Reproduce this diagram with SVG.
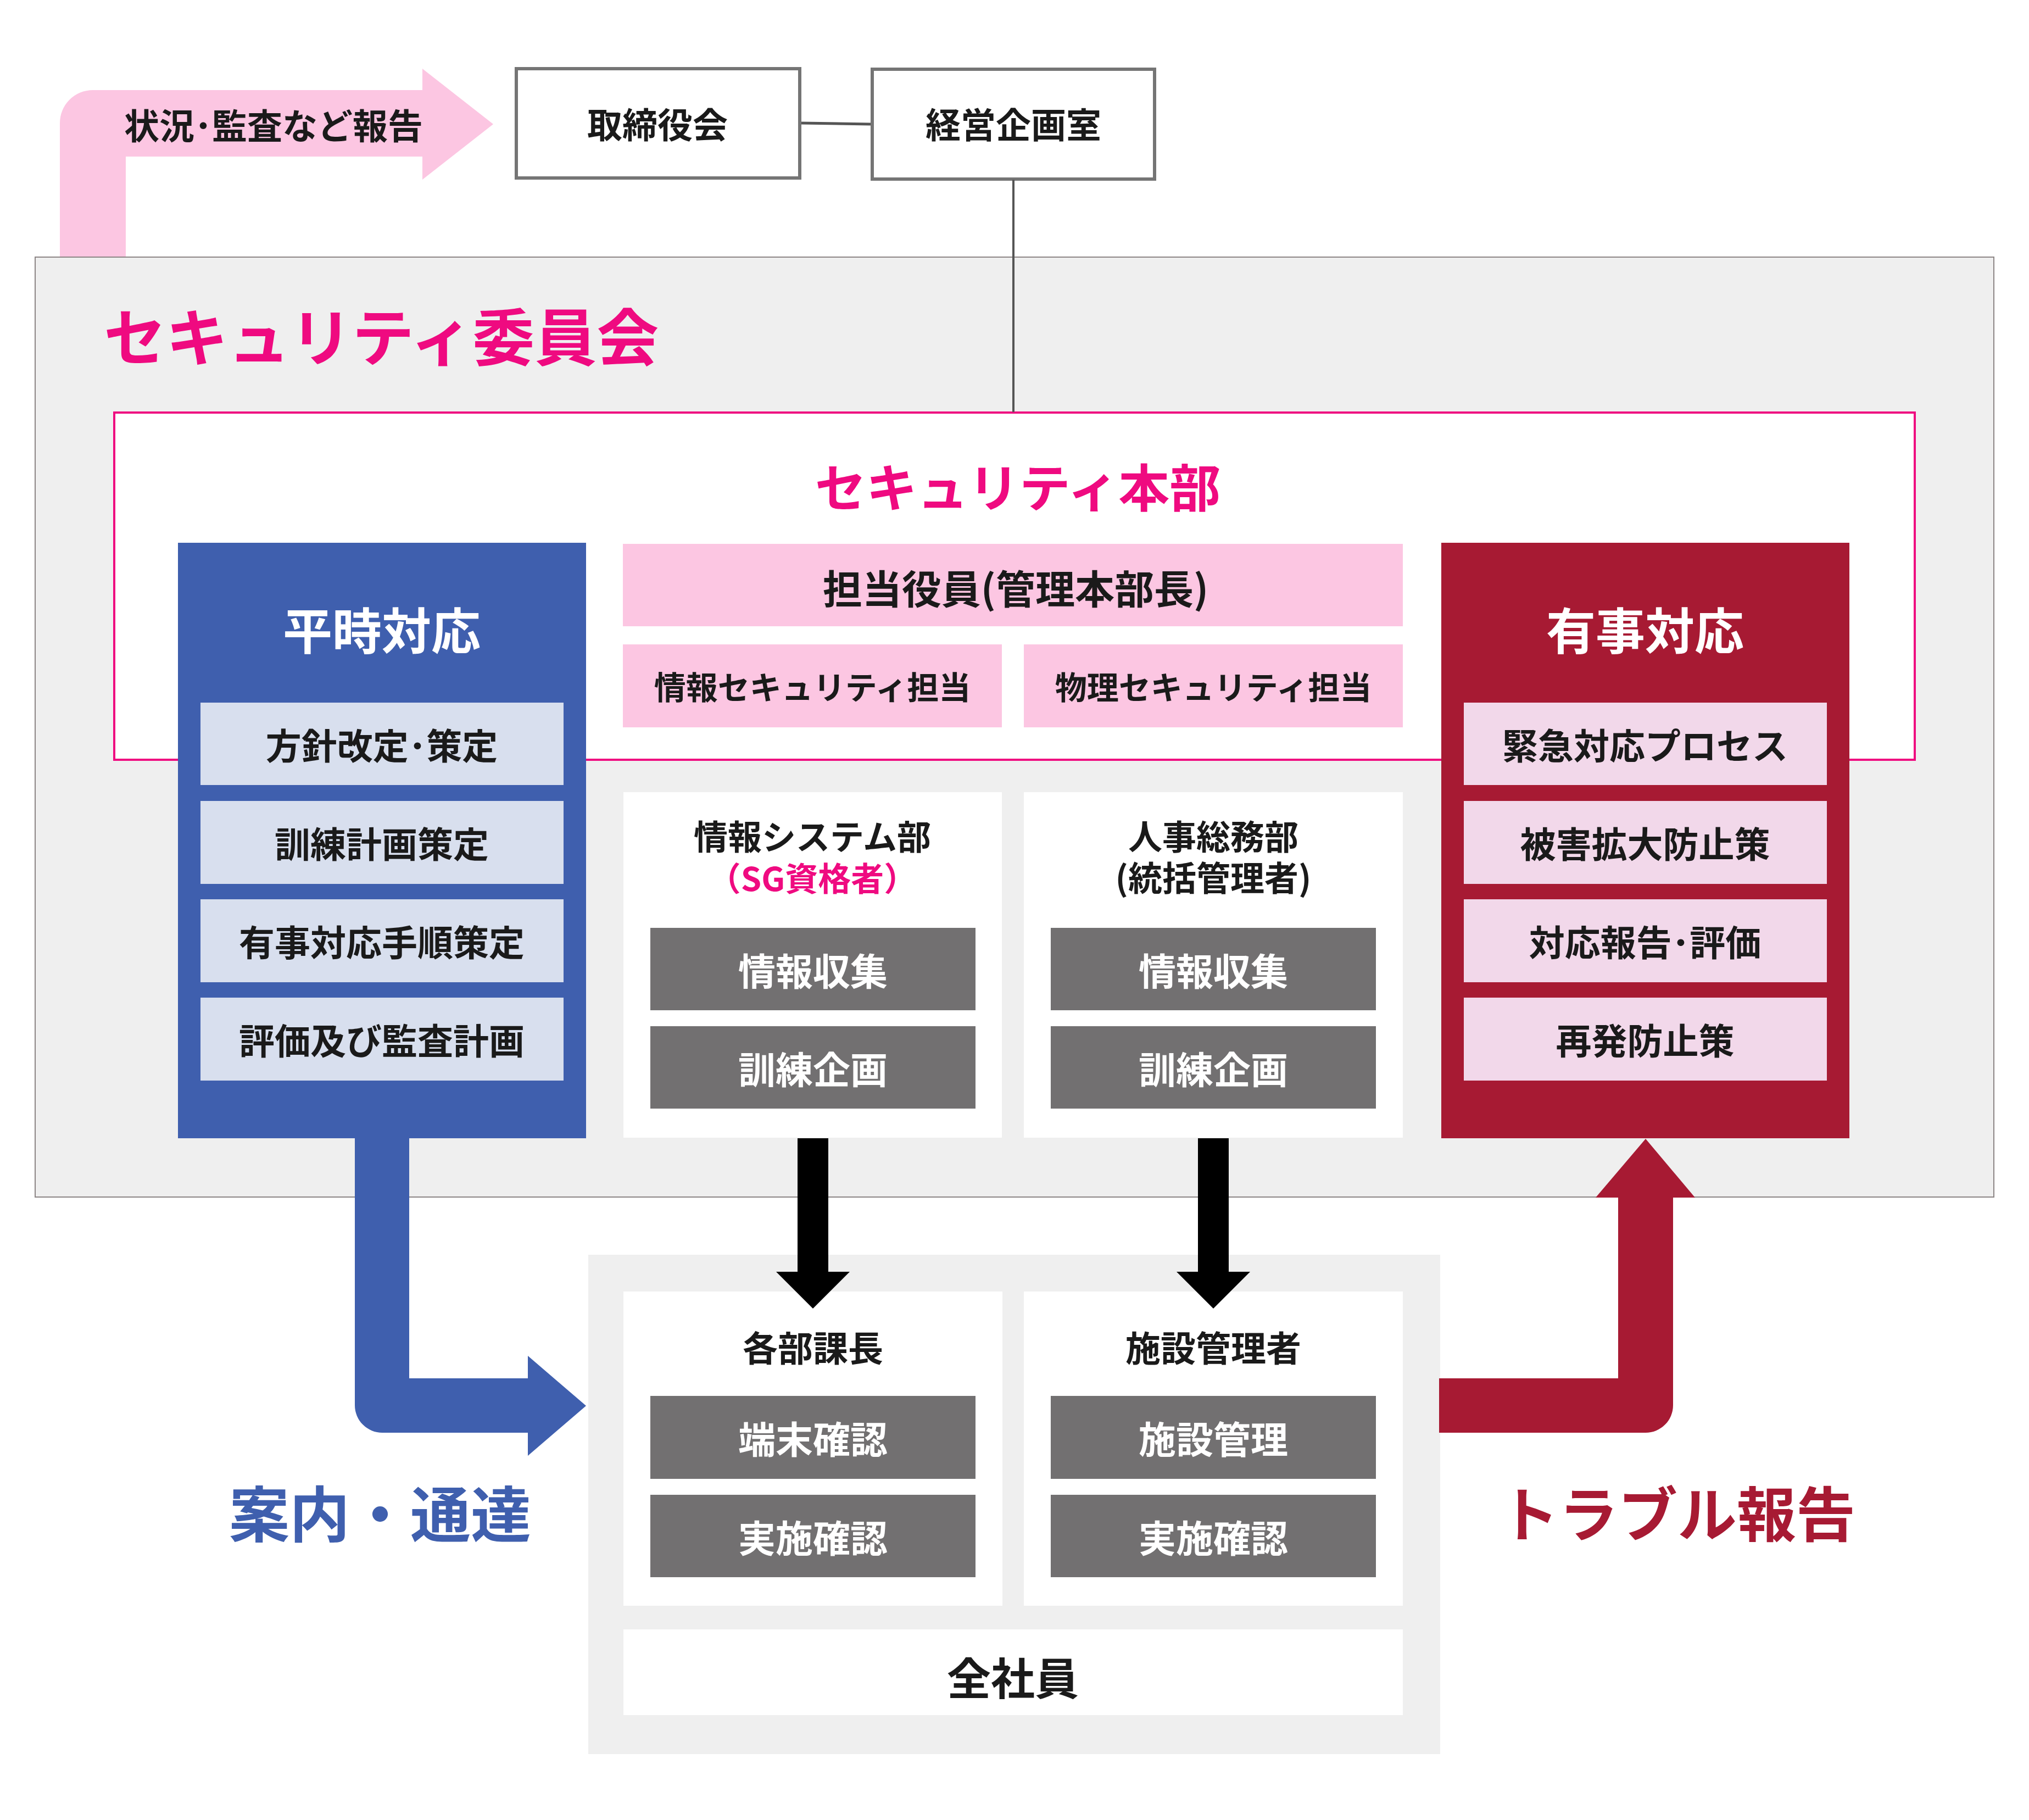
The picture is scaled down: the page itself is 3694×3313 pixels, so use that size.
<svg xmlns="http://www.w3.org/2000/svg" width="3694" height="3313" viewBox="0 0 3694 3313">
<style>
text{font-family:"Noto Sans CJK JP","Noto Sans CJK SC",sans-serif;font-weight:700;dominant-baseline:central;text-anchor:middle;fill:#1a1a1a}
.w{fill:#ffffff}
.m{fill:#ef0a80}
.lb{fill:#d8dfee}
.lp{fill:#f2d8ea}
.pk{fill:#fcc6e2}
.gb{fill:#727071}
.wb{fill:#ffffff}
.f62{font-size:62px}
.f65{font-size:65px}
.f68{font-size:68px}
.f64{font-size:64px}
</style>
<rect width="3694" height="3313" fill="#ffffff"/>

<!-- pink report arrow -->
<path id="report-arrow" d="M109,470 L109,224 A60,60 0 0 1 169,164 L769,164 L769,125 L898,226 L769,327 L769,285 L229,285 L229,470 Z" fill="#fcc6e2"/>

<!-- security committee -->
<g id="committee">
<rect x="64" y="468" width="3566" height="1711" fill="#efefef" stroke="#8c8585" stroke-width="2"/>
<text x="189" y="607" font-size="113" class="m" style="text-anchor:start">セキュリティ委員会</text>
</g>

<g id="hq">
<rect x="208" y="751" width="3278" height="632" fill="#ffffff" stroke="#ef0a80" stroke-width="4"/>
<text x="1853" y="882" font-size="93" class="m">セキュリティ本部</text>
</g>

<g id="report-label">
<text x="498" y="225" font-size="64">状況･監査など報告</text>
</g>

<g id="board">
<rect x="940" y="125" width="516" height="199" fill="#ffffff" stroke="#757575" stroke-width="6"/>
<text x="1197" y="223" class="f64">取締役会</text>
</g>
<g id="planning">
<rect x="1588" y="126" width="514" height="200" fill="#ffffff" stroke="#757575" stroke-width="6"/>
<text x="1845" y="223" class="f64">経営企画室</text>
</g>

<!-- normal time -->
<g id="normal">
<rect x="324" y="988" width="743" height="1084" fill="#3f5fae"/>
<text x="695" y="1143" font-size="90" class="w">平時対応</text>
<rect x="365" y="1279" width="661" height="150" class="lb"/>
<rect x="365" y="1458" width="661" height="151" class="lb"/>
<rect x="365" y="1637" width="661" height="151" class="lb"/>
<rect x="365" y="1816" width="661" height="151" class="lb"/>
<text x="695" y="1354" class="f65">方針改定･策定</text>
<text x="695" y="1533" class="f65">訓練計画策定</text>
<text x="695" y="1712" class="f65">有事対応手順策定</text>
<text x="695" y="1891" class="f65">評価及び監査計画</text>
</g>

<!-- emergency -->
<g id="emergency">
<rect x="2624" y="988" width="743" height="1084" fill="#a71a33"/>
<text x="2995" y="1143" font-size="90" class="w">有事対応</text>
<rect x="2665" y="1279" width="661" height="150" class="lp"/>
<rect x="2665" y="1458" width="661" height="151" class="lp"/>
<rect x="2665" y="1637" width="661" height="151" class="lp"/>
<rect x="2665" y="1816" width="661" height="151" class="lp"/>
<text x="2995" y="1354" class="f65">緊急対応プロセス</text>
<text x="2995" y="1533" class="f65">被害拡大防止策</text>
<text x="2995" y="1712" class="f65">対応報告･評価</text>
<text x="2995" y="1891" class="f65">再発防止策</text>
</g>

<g id="officer">
<rect x="1134" y="990" width="1420" height="150" class="pk"/>
<text x="1849" y="1067" font-size="72">担当役員(管理本部長)</text>
</g>
<g id="info-sec">
<rect x="1134" y="1173" width="690" height="151" class="pk"/>
<text x="1479" y="1248" font-size="58">情報セキュリティ担当</text>
</g>
<g id="phys-sec">
<rect x="1864" y="1173" width="690" height="151" class="pk"/>
<text x="2209" y="1248" font-size="58">物理セキュリティ担当</text>
</g>

<g id="it-dept">
<rect x="1135" y="1442" width="689" height="629" class="wb"/>
<text class="f62"><tspan x="1479" y="1520">情報システム部</tspan><tspan x="1479" y="1595" class="m" font-size="60">（SG資格者）</tspan></text>
<rect x="1184" y="1689" width="592" height="150" class="gb"/>
<rect x="1184" y="1868" width="592" height="150" class="gb"/>
<text x="1480" y="1764" class="f68 w">情報収集</text>
<text x="1480" y="1943" class="f68 w">訓練企画</text>
</g>
<g id="hr-dept">
<rect x="1864" y="1442" width="690" height="629" class="wb"/>
<text class="f62"><tspan x="2209" y="1520">人事総務部</tspan><tspan x="2209" y="1595">(統括管理者)</tspan></text>
<rect x="1913" y="1689" width="592" height="150" class="gb"/>
<rect x="1913" y="1868" width="592" height="150" class="gb"/>
<text x="2209" y="1764" class="f68 w">情報収集</text>
<text x="2209" y="1943" class="f68 w">訓練企画</text>
</g>

<!-- lower area -->
<g id="lower">
<rect x="1071" y="2284" width="1551" height="909" fill="#efefef"/>
</g>
<g id="managers">
<rect x="1135" y="2351" width="690" height="572" class="wb"/>
<text x="1480" y="2450" class="f64">各部課長</text>
<rect x="1184" y="2541" width="592" height="151" class="gb"/>
<rect x="1184" y="2721" width="592" height="150" class="gb"/>
<text x="1480" y="2616" class="f68 w">端末確認</text>
<text x="1480" y="2796" class="f68 w">実施確認</text>
</g>
<g id="facility">
<rect x="1864" y="2351" width="690" height="572" class="wb"/>
<text x="2209" y="2450" class="f64">施設管理者</text>
<rect x="1913" y="2541" width="592" height="151" class="gb"/>
<rect x="1913" y="2721" width="592" height="150" class="gb"/>
<text x="2209" y="2616" class="f68 w">施設管理</text>
<text x="2209" y="2796" class="f68 w">実施確認</text>
</g>
<g id="all-staff">
<rect x="1135" y="2966" width="1419" height="156" class="wb"/>
<text x="1844" y="3050" font-size="80">全社員</text>
</g>

<g id="connectors">
<line x1="1459" y1="224" x2="1585" y2="226" stroke="#555555" stroke-width="5"/>
<line x1="1845" y1="327" x2="1845" y2="750" stroke="#555555" stroke-width="4"/>
<path d="M1452,2072 L1508,2072 L1508,2315 L1547,2315 L1480,2382 L1413,2315 L1452,2315 Z" fill="#000000"/>
<path d="M2181,2072 L2237,2072 L2237,2315 L2276,2315 L2209,2382 L2142,2315 L2181,2315 Z" fill="#000000"/>
<path d="M646,2070 L745,2070 L745,2509 L961,2509 L961,2468 L1067,2559 L961,2650 L961,2608 L696,2608 A50,50 0 0 1 646,2558 Z" fill="#3f5fae"/>
<path d="M2620,2509 L2946,2509 L2946,2180 L2905,2180 L2996,2073 L3086,2180 L3046,2180 L3046,2558 A50,50 0 0 1 2996,2608 L2620,2608 Z" fill="#a71a33"/>
</g>

<g id="labels">
<text x="692" y="2750" font-size="110" style="fill:#3f5fae">案内・通達</text>
<text x="3054" y="2750" font-size="108" style="fill:#a71a33">トラブル報告</text>
</g>
</svg>
